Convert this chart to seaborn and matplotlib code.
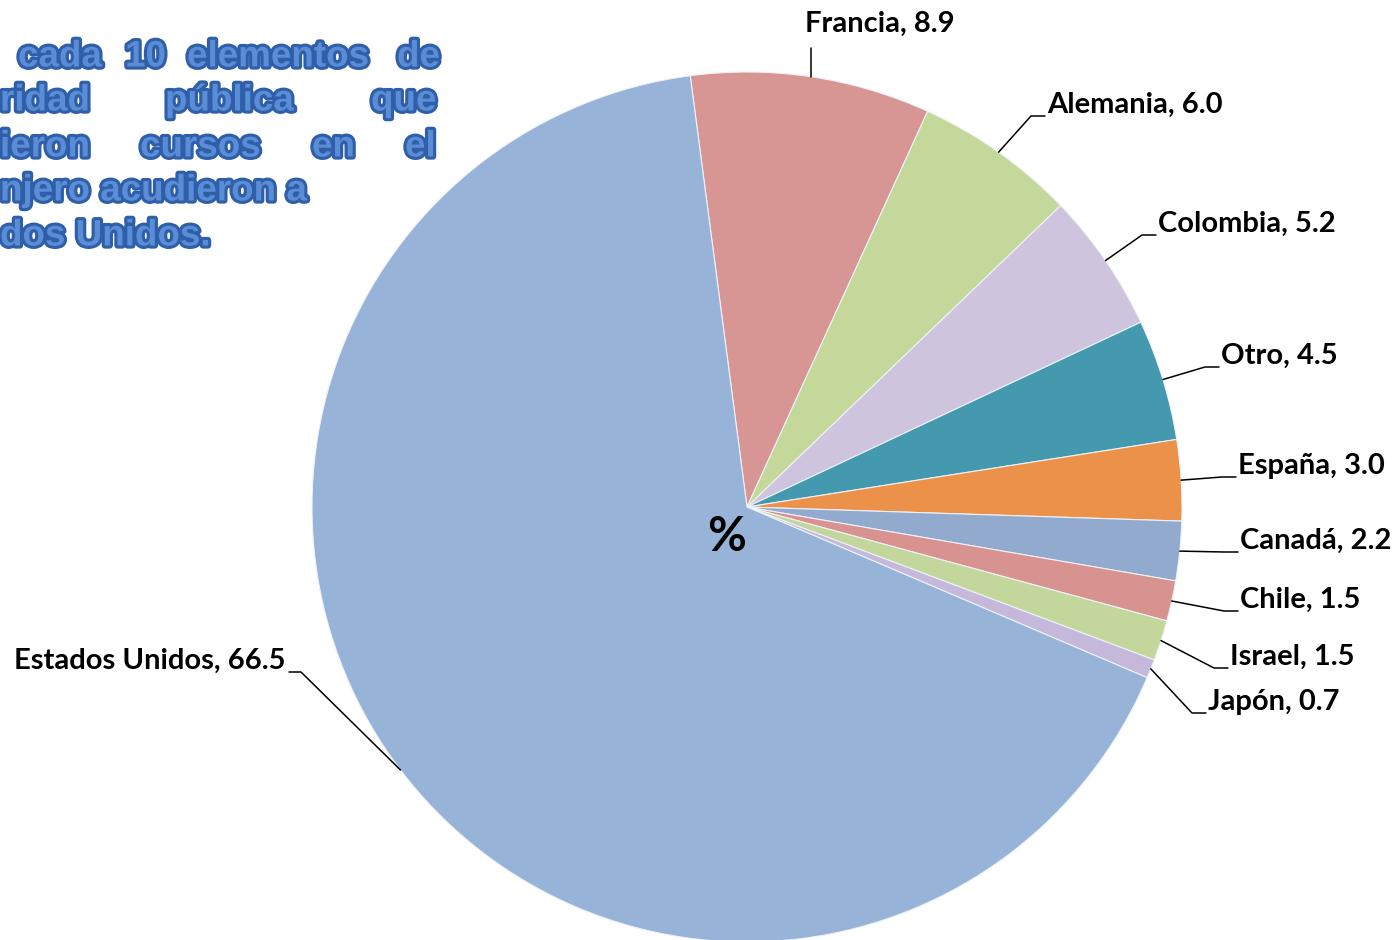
import numpy as np
import seaborn as sns
import matplotlib.pyplot as plt
import matplotlib.patheffects as pe

# Data (percent of courses abroad, by destination country)
countries = ['Francia', 'Alemania', 'Colombia', 'Otro', 'España', 'Canadá',
             'Chile', 'Israel', 'Japón', 'Estados Unidos']
shares = [8.9, 6.0, 5.2, 4.5, 3.0, 2.2, 1.5, 1.5, 0.7, 66.5]
colors = ['#D79593', '#C5D89C', '#CFC4DD', '#4499AF', '#EC9149', '#93AACF',
          '#D8928F', '#C3D69B', '#C6B8DA', '#97B3D8']

# label layout in pixels: left/right edge of text, vertical centre
label_pos = [(880, 24, 'center'), (1047, 105, 'left'), (1158, 224, 'left'),
             (1221, 356, 'left'), (1238, 466, 'left'), (1240, 541, 'left'),
             (1240, 600, 'left'), (1230, 657, 'left'), (1208, 702, 'left'),
             (285, 661, 'right')]

title_lines = [
    (57, [('cada', 18), ('10', 125), ('elementos', 187), ('de', 397)]),
    (101, [('ridad', 0), ('pública', 165), ('que', 371)]),
    (147, [('ieron', 0), ('cursos', 140), ('en', 312), ('el', 405)]),
    (191, [('njero acudieron a', 0)]),
    (236, [('dos Unidos.', 0)]),
]

sns.set_theme(style='white')
plt.rcParams['font.family'] = ['Lato', 'DejaVu Sans']

W, H = 1396, 940
fig = plt.figure(figsize=(W / 100, H / 100), dpi=100)
ax = fig.add_axes([0, 0, 1, 1])

cx, cy, r = 747, 507, 435
wedges, _ = ax.pie(shares, colors=colors, startangle=97.5, counterclock=False,
                   center=(cx, H - cy), radius=r,
                   wedgeprops=dict(edgecolor='#EEF2F8', linewidth=0.8))
ax.set_xlim(0, W)
ax.set_ylim(0, H)
ax.set_aspect('auto')
ax.axis('off')

for w, name, val, (tx, ty, ha) in zip(wedges, countries, shares, label_pos):
    mid = np.deg2rad((w.theta1 + w.theta2) / 2)
    ex, ey = cx + r * np.cos(mid), cy - r * np.sin(mid)
    ax.text(tx, H - ty, f'{name}, {val:.1f}', ha=ha, va='center',
            fontsize=21, fontweight='bold', color='black')
    if ha == 'center':
        xs, ys = [ex, ex], [ey, ty + 24]
    elif ha == 'left':
        ly = ty + 11
        xs, ys = [ex, tx - 16, tx - 2], [ey, ly, ly]
    else:
        ly = ty + 11
        xs, ys = [ex, tx + 16, tx + 4], [ey, ly, ly]
    ax.plot(xs, [H - y for y in ys], color='black', lw=1.1)

ax.text(727, H - 537, '%', ha='center', va='center', fontsize=34,
        fontweight='bold', color='black')

for y, words in title_lines:
    for word, x in words:
        ax.text(x, H - y, word, ha='left', va='center', fontsize=26.5,
                fontweight='bold', family=['Liberation Sans', 'DejaVu Sans'],
                color='#5A8DD6',
                path_effects=[pe.withStroke(linewidth=4.5, foreground='#2F5FA8')])

fig.savefig('out.png', dpi=100)
